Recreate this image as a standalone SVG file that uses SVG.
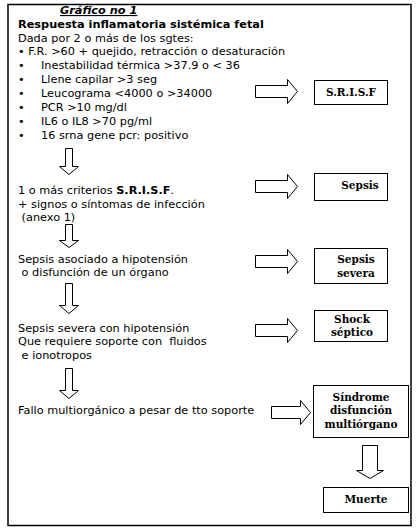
<svg xmlns="http://www.w3.org/2000/svg" width="418" height="530" viewBox="0 0 418 530">
<style>
.t{font-family:"DejaVu Sans",Verdana,sans-serif;font-size:11.3px;fill:#000}
.b{font-weight:bold}
.bx{fill:#fff;stroke:#000;stroke-width:1}
.bl{font-family:"DejaVu Serif","Liberation Serif",serif;font-weight:bold;font-size:10.5px;fill:#000;text-anchor:middle}
.ar{fill:#fff;stroke:#000;stroke-width:1}
</style>
<rect x="0" y="0" width="418" height="530" fill="#fff"/>
<rect x="8" y="4.5" width="403" height="521" fill="none" stroke="#000" stroke-width="1.5"/>
<g id="text-main">
<text class="t b" x="60" y="14" font-style="italic" text-decoration="underline">Gráfico no 1</text>
<text class="t b" x="18" y="28">Respuesta inflamatoria sistémica fetal</text>
<text class="t" x="18" y="42">Dada por 2 o más de los sgtes:</text>
<text class="t" x="18" y="55">• F.R. &gt;60 + quejido, retracción o desaturación</text>
<text class="t" x="18" y="69">•</text><text class="t" x="41" y="69">Inestabilidad térmica &gt;37.9 o &lt; 36</text>
<text class="t" x="18" y="83">•</text><text class="t" x="41" y="83">Llene capilar &gt;3 seg</text>
<text class="t" x="18" y="97">•</text><text class="t" x="41" y="97">Leucograma &lt;4000 o &gt;34000</text>
<text class="t" x="18" y="111">•</text><text class="t" x="41" y="111">PCR &gt;10 mg/dl</text>
<text class="t" x="18" y="125">•</text><text class="t" x="41" y="125">IL6 o IL8 &gt;70 pg/ml</text>
<text class="t" x="18" y="139">•</text><text class="t" x="41" y="139">16 srna gene pcr: positivo</text>
</g>
<g id="text-sepsis">
<text class="t" x="18" y="194">1 o más criterios <tspan class="b">S.R.I.S.F</tspan>.</text>
<text class="t" x="18" y="208">+ signos o síntomas de infección</text>
<text class="t" x="18" y="221" xml:space="preserve"> (anexo 1)</text>
</g>
<g id="text-severa">
<text class="t" x="18" y="263">Sepsis asociado a hipotensión</text>
<text class="t" x="18" y="276" xml:space="preserve"> o disfunción de un órgano</text>
</g>
<g id="text-shock">
<text class="t" x="18" y="332">Sepsis severa con hipotensión</text>
<text class="t" x="18" y="345" xml:space="preserve">Que requiere soporte con  fluidos</text>
<text class="t" x="18" y="359" xml:space="preserve"> e ionotropos</text>
</g>
<g id="text-fallo">
<text class="t" x="18" y="414">Fallo multiorgánico a pesar de tto soporte</text>
</g>
<g id="node-srisf">
<rect class="bx" x="314.5" y="80.5" width="73" height="24"/>
<text class="bl" x="351" y="96">S.R.I.S.F</text>
</g>
<g id="node-sepsis">
<rect class="bx" x="314.5" y="173.5" width="73" height="27"/>
<text class="bl" x="360" y="189">Sepsis</text>
</g>
<g id="node-sepsis-severa">
<rect class="bx" x="314.5" y="248.5" width="73" height="35"/>
<text class="bl" x="356" y="263">Sepsis</text>
<text class="bl" x="356" y="277">severa</text>
</g>
<g id="node-shock">
<rect class="bx" x="314.5" y="310.5" width="73" height="31"/>
<text class="bl" x="352" y="323">Shock</text>
<text class="bl" x="352" y="336">séptico</text>
</g>
<g id="node-sindrome">
<rect class="bx" x="313.5" y="385.5" width="95" height="52"/>
<text class="bl" x="361" y="401">Síndrome</text>
<text class="bl" x="361" y="414">disfunción</text>
<text class="bl" x="361" y="428">multiórgano</text>
</g>
<g id="node-muerte">
<rect class="bx" x="323.5" y="487.5" width="85" height="25"/>
<text class="bl" x="366" y="503">Muerte</text>
</g>
<g id="connectors">
<path class="ar" d="M65.5,148.5 H72.5 V166.5 H78.5 L69,174.5 L59.5,166.5 H65.5 Z"/>
<path class="ar" d="M65.5,224.5 H72.5 V240.5 H78.5 L69,247.5 L59.5,240.5 H65.5 Z"/>
<path class="ar" d="M65.5,283.5 H72.5 V305.5 H78.5 L69,313.5 L59.5,305.5 H65.5 Z"/>
<path class="ar" d="M65.5,368.5 H72.5 V390.5 H78.5 L69,398.5 L59.5,390.5 H65.5 Z"/>
<path class="ar" d="M362.5,445.5 H377.5 V470.5 H383.5 L370,478.5 L356.5,470.5 H362.5 Z"/>
<path class="ar" d="M255.5,85.5 V97.5 H287.5 V103.5 L297.5,91.5 L287.5,79.5 V85.5 Z"/>
<path class="ar" d="M255.5,180.5 V192.5 H287.5 V198.5 L297.5,186.5 L287.5,174.5 V180.5 Z"/>
<path class="ar" d="M255.5,255.5 V267.5 H287.5 V273.5 L297.5,261.5 L287.5,249.5 V255.5 Z"/>
<path class="ar" d="M255.5,324.5 V336.5 H287.5 V342.5 L297.5,330.5 L287.5,318.5 V324.5 Z"/>
<path class="ar" d="M271.5,406.5 V418.5 H300.5 V424.5 L310.5,412.5 L300.5,400.5 V406.5 Z"/>
</g>
</svg>
